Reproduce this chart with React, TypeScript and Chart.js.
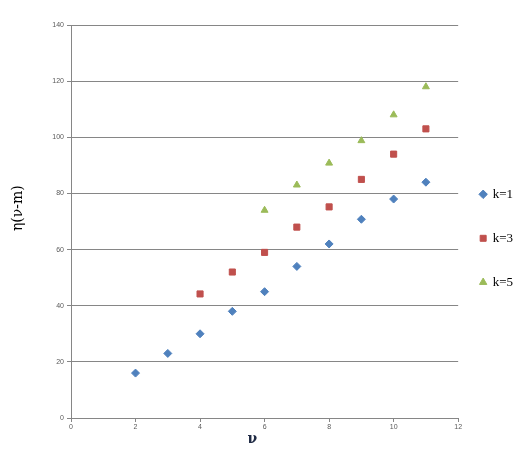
import React, { useEffect, useRef } from 'react';
import { Chart, registerables } from 'chart.js';

Chart.register(...registerables);

// values
const xK1 = [2, 3, 4, 5, 6, 7, 8, 9, 10, 11];
const yK1 = [16, 23, 30, 38, 45, 54, 62, 70.8, 78, 84];
const xK3 = [4, 5, 6, 7, 8, 9, 10, 11];
const yK3 = [44.2, 52, 59, 68, 75.2, 85, 94, 103];
const xK5 = [6, 7, 8, 9, 10, 11];
const yK5 = [74, 83, 90.8, 98.8, 108, 118];
const seriesLabels = ['k=1', 'k=3', 'k=5'];
const xTitle = 'ν';
const yTitle = 'η(ν-m)';

const GRID = '#868686';
const TICK_COLOR = '#595959';

const toPoints = (xs: number[], ys: number[]) => xs.map((x, i) => ({ x, y: ys[i] }));

export default function App() {
  const chartRef = useRef<HTMLCanvasElement>(null);
  const chartInstanceRef = useRef<Chart | null>(null);

  useEffect(() => {
    if (!chartRef.current) return;
    const ctx = chartRef.current.getContext('2d');
    if (!ctx) return;

    if (chartInstanceRef.current) {
      chartInstanceRef.current.destroy();
    }

    chartInstanceRef.current = new Chart(ctx, {
      type: 'scatter',
      data: {
        datasets: [
          {
            label: seriesLabels[0],
            data: toPoints(xK1, yK1),
            backgroundColor: '#4F81BD',
            borderColor: '#4F81BD',
            pointStyle: 'rectRot',
            pointRadius: 4,
            borderWidth: 1
          },
          {
            label: seriesLabels[1],
            data: toPoints(xK3, yK3),
            backgroundColor: '#C0504D',
            borderColor: '#C0504D',
            pointStyle: 'rect',
            pointRadius: 4.3,
            borderWidth: 1
          },
          {
            label: seriesLabels[2],
            data: toPoints(xK5, yK5),
            backgroundColor: '#9BBB59',
            borderColor: '#9BBB59',
            pointStyle: 'triangle',
            pointRadius: 4,
            borderWidth: 1
          }
        ]
      },
      options: {
        animation: false,
        responsive: true,
        maintainAspectRatio: false,
        layout: {
          padding: { top: 25, left: 0, right: 4, bottom: 0 }
        },
        scales: {
          x: {
            type: 'linear',
            min: 0,
            max: 12,
            afterFit: (scale: any) => { scale.height = 35; },
            ticks: {
              stepSize: 2,
              color: TICK_COLOR,
              padding: 1,
              font: { family: 'Liberation Sans', size: 7 }
            },
            grid: {
              drawOnChartArea: false,
              drawTicks: true,
              tickLength: 4,
              color: GRID
            },
            border: { color: GRID, width: 1 },
            title: {
              display: true,
              text: xTitle + '     ',
              color: '#1F2A44',
              font: { family: 'DejaVu Serif', size: 14, weight: 'bold' },
              padding: { top: 0, bottom: 5 }
            }
          },
          y: {
            type: 'linear',
            min: 0,
            max: 140,
            afterFit: (scale: any) => { scale.width = 71; },
            ticks: {
              stepSize: 20,
              color: TICK_COLOR,
              padding: 3,
              font: { family: 'Liberation Sans', size: 7 }
            },
            grid: {
              color: GRID,
              tickLength: 4,
              lineWidth: 1
            },
            border: { color: GRID, width: 1 },
            title: {
              display: true,
              text: '      ' + yTitle,
              color: '#000000',
              font: { family: 'DejaVu Serif', size: 14 },
              padding: { top: 10, bottom: 0 }
            }
          }
        },
        plugins: {
          legend: {
            position: 'right',
            maxWidth: 69,
            title: {
              display: true,
              text: '',
              font: { size: 5 },
              padding: { top: 1.6, bottom: 0 }
            },
            labels: {
              usePointStyle: true,
              boxWidth: 6,
              boxHeight: 6,
              padding: 22,
              color: '#000000',
              font: { family: 'Liberation Serif', size: 13, lineHeight: '22px' },
              generateLabels: (chart: Chart) =>
                Chart.defaults.plugins.legend.labels
                  .generateLabels(chart)
                  .map((item: any) => ({ ...item, text: [item.text] }))
            }
          },
          tooltip: { enabled: false }
        }
      }
    } as any);

    return () => {
      if (chartInstanceRef.current) {
        chartInstanceRef.current.destroy();
        chartInstanceRef.current = null;
      }
    };
  }, []);

  return (
    <div style={{ position: 'fixed', left: 0, top: 0, width: 527, height: 453, background: '#ffffff' }}>
      <canvas ref={chartRef}></canvas>
    </div>
  );
}
